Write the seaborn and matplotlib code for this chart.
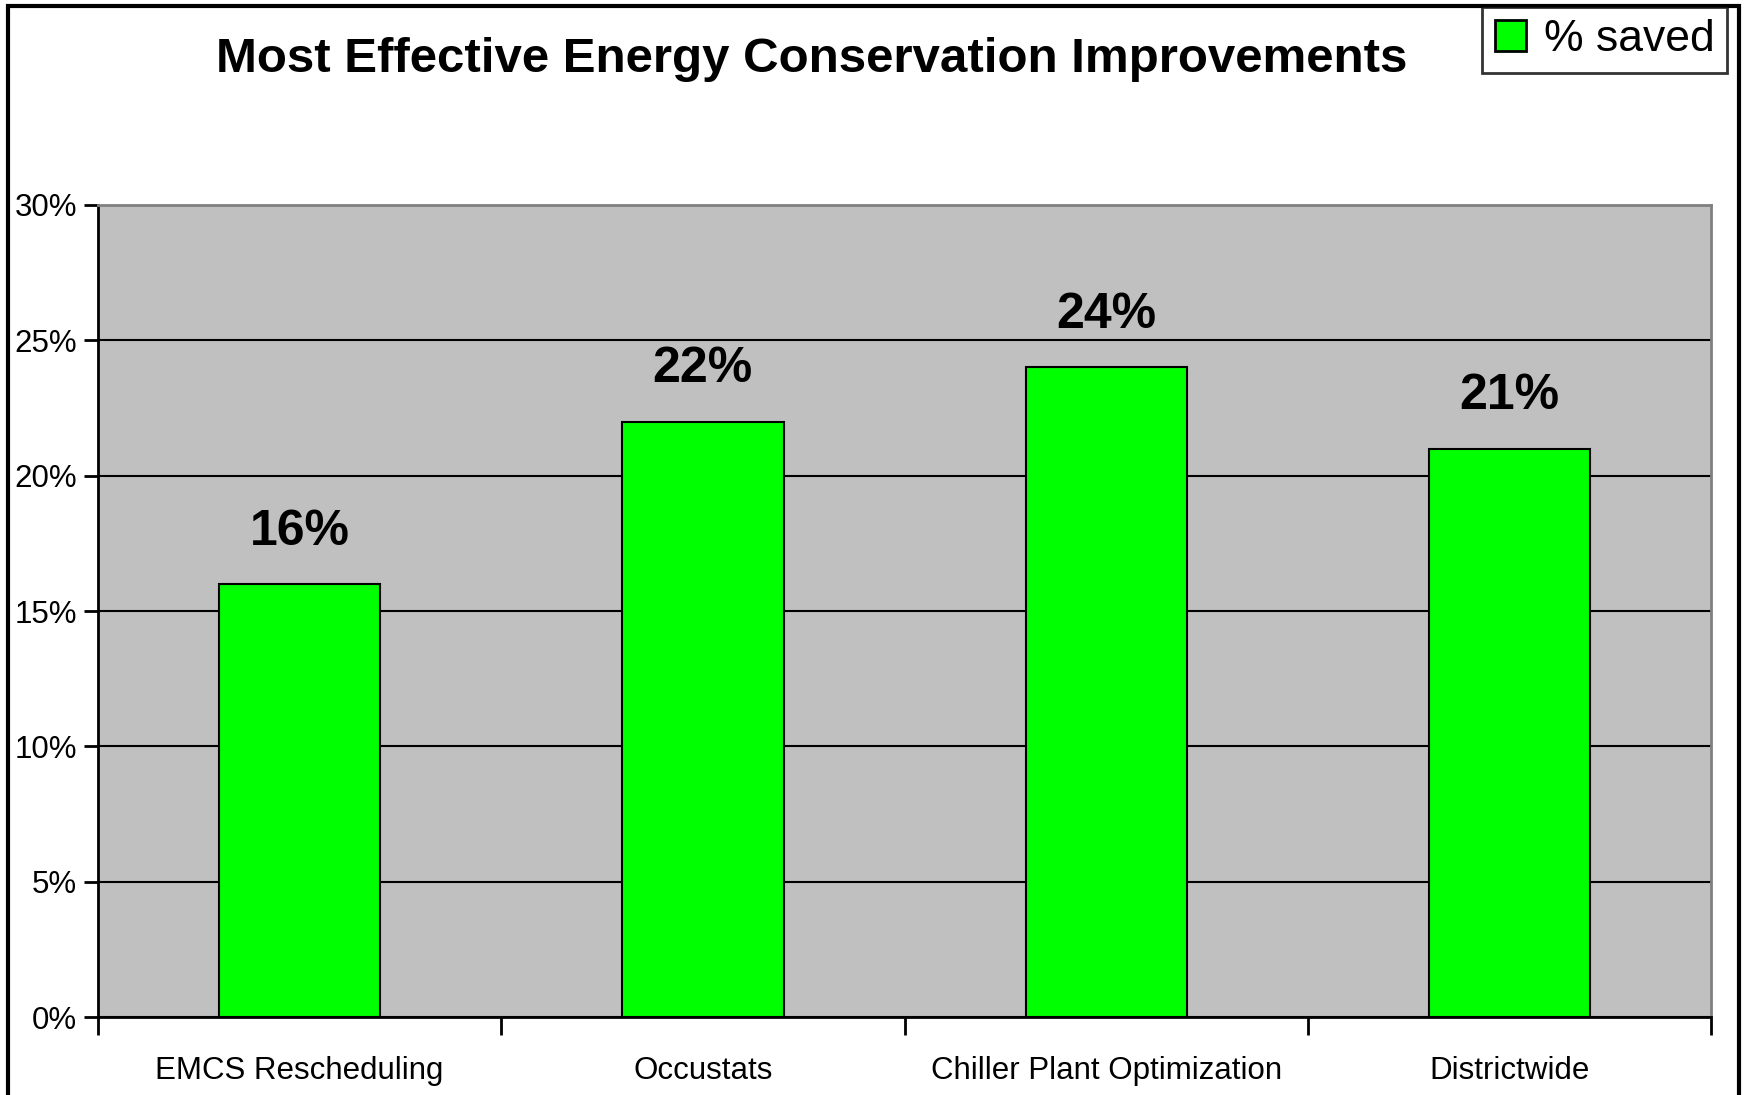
import matplotlib
matplotlib.use("Agg")
import matplotlib.pyplot as plt
import matplotlib.patches as mpatches
from matplotlib.ticker import PercentFormatter, FixedLocator
import seaborn as sns
import pandas as pd

categories = ["EMCS Rescheduling", "Occustats", "Chiller Plant Optimization", "Districtwide"]
pct_saved = [0.16, 0.22, 0.24, 0.21]
value_labels = ["16%", "22%", "24%", "21%"]
series_name = "% saved"

sns.set_style("white")
plt.rcParams["font.family"] = ["Liberation Sans", "DejaVu Sans"]
plt.rcParams["text.color"] = "black"
plt.rcParams["xtick.color"] = "black"
plt.rcParams["ytick.color"] = "black"
plt.rcParams["axes.labelcolor"] = "black"

df = pd.DataFrame({"category": categories, "pct": pct_saved})

fig = plt.figure(figsize=(17.46, 10.95), dpi=100)
ax = fig.add_axes([0.0561, 0.0712, 0.980 - 0.0561, 0.8128 - 0.0712])
ax.set_facecolor("#c0c0c0")

sns.barplot(data=df, x="category", y="pct", color="#00ff00", width=0.4,
            edgecolor="black", linewidth=1.5, saturation=1, ax=ax, zorder=3)

ax.set_ylim(0, 0.30)
ax.set_xlim(-0.5, len(categories) - 0.5)
ax.yaxis.set_major_locator(FixedLocator([0, 0.05, 0.10, 0.15, 0.20, 0.25, 0.30]))
ax.yaxis.set_major_formatter(PercentFormatter(1.0, decimals=0))
ax.grid(axis="y", color="black", linewidth=1.5, zorder=0)
ax.set_axisbelow(True)
ax.set_xlabel("")
ax.set_ylabel("")

# category ticks on boundaries, labels centred in between
ax.set_xticks([i - 0.5 for i in range(len(categories) + 1)])
ax.set_xticklabels([])
ax.set_xticks(range(len(categories)), minor=True)
ax.set_xticklabels(categories, minor=True, fontsize=22.5)
ax.tick_params(axis="x", which="major", direction="out", length=13, width=2, color="black", bottom=True)
ax.tick_params(axis="x", which="minor", length=0, pad=28)
ax.tick_params(axis="y", direction="out", length=10, width=2, color="black", left=True,
               labelsize=22.5, pad=5)

for side in ["left", "bottom"]:
    ax.spines[side].set_color("black")
    ax.spines[side].set_linewidth(2)
for side in ["top", "right"]:
    ax.spines[side].set_color("#808080")
    ax.spines[side].set_linewidth(2)

for i, (v, lab) in enumerate(zip(pct_saved, value_labels)):
    ax.annotate(lab, (i, v), xytext=(0, 21), textcoords="offset points",
                ha="center", va="bottom", fontsize=36, fontweight="bold", color="black")

fig.text(0.465, 0.946, "Most Effective Energy Conservation Improvements",
         ha="center", va="center", fontsize=35.5, fontweight="bold", color="black")

handle = mpatches.Patch(facecolor="#00ff00", edgecolor="black", linewidth=2)
leg = fig.legend([handle], [series_name], loc="upper right",
                 bbox_to_anchor=(1727 / 1746, 1 - 7 / 1095), fontsize=32,
                 frameon=True, fancybox=False, borderpad=0.28, handlelength=0.7,
                 handleheight=0.7, handletextpad=0.4, borderaxespad=0)
leg.get_frame().set_edgecolor("black")
leg.get_frame().set_linewidth(2)

# outer chart border
fig.patches.append(mpatches.Rectangle((8 / 1746, -0.05), (1739 - 8) / 1746, 1.05 - 6 / 1095,
                                      transform=fig.transFigure, fill=False,
                                      edgecolor="black", linewidth=3))

fig.savefig("out.png", dpi=100)
